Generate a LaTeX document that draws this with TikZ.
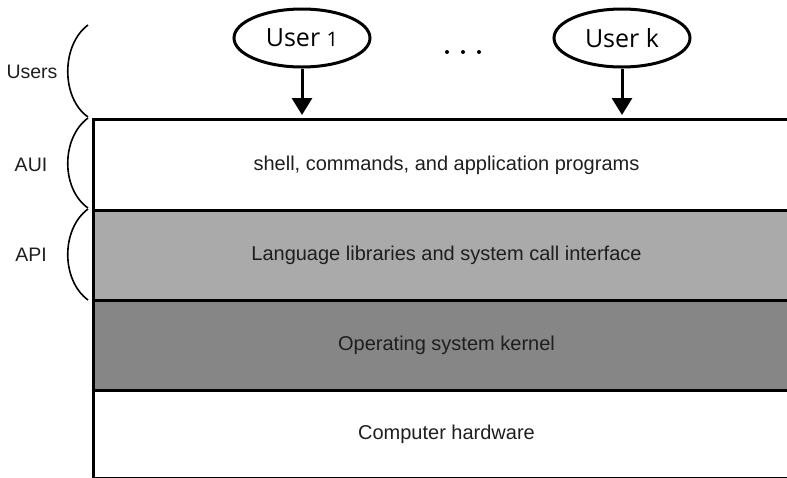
\documentclass[tikz,border=0pt]{standalone}
\usepackage{fontspec}
\setmainfont{Liberation Sans}
\newfontfamily\userfont{Open Sans}
\usetikzlibrary{shapes.geometric,arrows.meta}
\definecolor{apigray}{RGB}{170,170,170}
\definecolor{kernelgray}{RGB}{134,134,134}
\definecolor{txt}{RGB}{30,30,30}

\begin{document}
\begin{tikzpicture}[x=1pt,y=-1pt,
  layer/.style={draw=black, line width=3pt, anchor=north west, minimum width=706pt,
    inner sep=0pt, text=txt, font=\fontsize{20}{24}\selectfont},
  user/.style={ellipse, draw, line width=3pt, minimum width=136pt, minimum height=58pt,
    inner sep=0pt, font=\userfont\fontsize{25}{30}\selectfont},
  flow/.style={line width=3pt, -{Triangle[width=20pt,length=17pt]}, shorten >=3pt},
  side/.style={line width=1.6pt},
  sidelabel/.style={text=txt, font=\fontsize{19.5}{23}\selectfont}]
\useasboundingbox (0,0) rectangle (787,477);

% layer stack
\node[layer, minimum height=91pt] (aui) at (92,118) {shell, commands, and application programs};
\node[layer, minimum height=90pt, fill=apigray] (api) at (92,209) {Language libraries and system call interface};
\node[layer, minimum height=90pt, fill=kernelgray] (kernel) at (92,299) {Operating system kernel};
\node[layer, minimum height=88pt] (hw) at (92,389) {Computer hardware};

% users
\node[user] (u1) at (302,38) {User {\fontsize{20}{24}\selectfont 1}};
\node[user] (uk) at (622,38) {User k};
\fill (447,52) circle (2pt) (463,52) circle (2pt) (479,52) circle (2pt);

\draw[flow] (u1) -- (u1 |- aui.north);
\draw[flow] (uk) -- (uk |- aui.north);

% side braces
\draw[side] (88,25) .. controls (61,45) and (61,98) .. (88,117);
\draw[side] (88,118) .. controls (61,138) and (61,189) .. (88,208);
\draw[side] (88,209) .. controls (61,229) and (61,280) .. (88,300);

\node[sidelabel] (users) at (32,72) {Users};
\node[sidelabel] (auil) at (31,165) {AUI};
\node[sidelabel] (apil) at (31,255) {API};
\end{tikzpicture}
\end{document}
